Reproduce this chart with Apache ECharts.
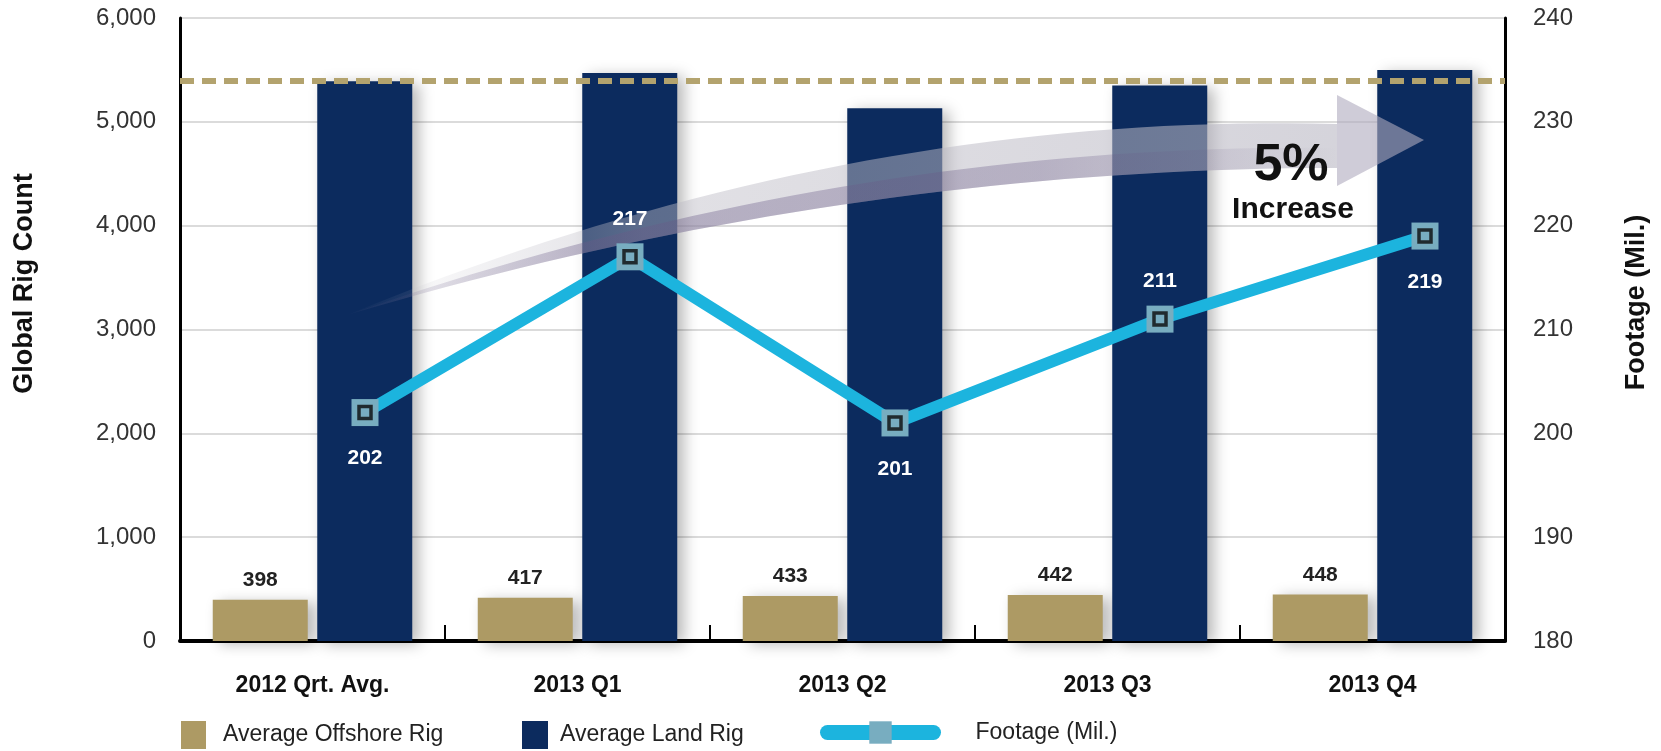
<!DOCTYPE html>
<html>
<head>
<meta charset="utf-8">
<script src="https://cdn.jsdelivr.net/npm/echarts@6/dist/echarts.min.js"></script>
<style>
html,body{margin:0;padding:0;background:#fff;}
#chart{width:1661px;height:751px;}
</style>
</head>
<body>
<div id="chart"></div>
<script>
// ---- data ----
const categories = ['2012 Qrt. Avg.', '2013 Q1', '2013 Q2', '2013 Q3', '2013 Q4'];
const offshoreRigs = [398, 417, 433, 442, 448];
const landRigs = [5390, 5470, 5130, 5350, 5500];
const footage = [202, 217, 201, 211, 219];
const referenceLevel = 5400;
const rigTicks = {min: 0, max: 6000, interval: 1000};
const footageTicks = {min: 180, max: 240, interval: 10};
const annotationMain = '5%';
const annotationSub = 'Increase';

// ---- styling / layout ----
const FONT = "'Liberation Sans', Arial, Helvetica, sans-serif";
const GOLD = '#ad9a64';
const NAVY = '#0c2b5e';
const CYAN = '#1cb4de';
const MARK = '#78adc0';

function quad(p0, c, p2, n) {
  const pts = [];
  for (let i = 0; i <= n; i++) {
    const t = i / n, a = (1 - t) * (1 - t), b = 2 * (1 - t) * t, d = t * t;
    pts.push([a * p0[0] + b * c[0] + d * p2[0], a * p0[1] + b * c[1] + d * p2[1]]);
  }
  return pts;
}
const tail = [347, 315];
const upper = quad(tail, [842, 111], [1337, 124], 40);
const lower = quad(tail, [842, 168], [1337, 168], 40);
const mid = quad(tail, [842, 142], [1337, 148], 40);
const shaftPts = upper.concat(lower.slice().reverse());
const bandPts = mid.concat(lower.slice().reverse());

const chart = echarts.init(document.getElementById('chart'), null, {renderer: 'canvas'});
const barShadow = {shadowBlur: 14, shadowColor: 'rgba(0,0,0,0.28)', shadowOffsetX: 7, shadowOffsetY: 3};

const option = {
  backgroundColor: '#fff',
  animation: false,
  textStyle: {fontFamily: FONT},
  grid: [
    {left: 180, right: 156, top: 18, bottom: 110},
    {left: 232.5, right: 103.5, top: 18, bottom: 110}
  ],
  legend: [
    {data: ['Average Offshore Rig'], left: 176, top: 716, itemWidth: 25, itemHeight: 28, icon: 'rect',
     textStyle: {fontSize: 23, color: '#222', fontFamily: FONT, padding: [0, 0, 0, 12]}},
    {data: ['Average Land Rig'], left: 517, top: 716, itemWidth: 26, itemHeight: 28, icon: 'rect',
     textStyle: {fontSize: 23, color: '#222', fontFamily: FONT, padding: [0, 0, 0, 7]}},
    {data: ['Footage (Mil.)'], left: 815, top: 716, itemWidth: 106, itemHeight: 28,
     lineStyle: {width: 15, cap: 'round'},
     textStyle: {fontSize: 23, color: '#222', fontFamily: FONT, padding: [3, 0, 0, 37]}}
  ],
  xAxis: [
    {type: 'category', gridIndex: 0, data: categories, boundaryGap: true,
     axisLine: {show: true, lineStyle: {color: '#000', width: 4}},
     axisTick: {show: true, inside: true, length: 16, interval: 0, lineStyle: {color: '#000', width: 2}},
     axisLabel: {fontSize: 23, fontWeight: 'bold', color: '#111', margin: 33, fontFamily: FONT}},
    {type: 'category', gridIndex: 1, data: categories, boundaryGap: true, show: false}
  ],
  yAxis: [
    {type: 'value', gridIndex: 0, position: 'left', min: rigTicks.min, max: rigTicks.max, interval: rigTicks.interval,
     name: 'Global Rig Count', nameLocation: 'middle', nameGap: 142,
     nameTextStyle: {fontSize: 27, fontWeight: 'bold', color: '#111', fontFamily: FONT, padding: [0, 0, 0, 92]},
     axisLine: {show: true, lineStyle: {color: '#000', width: 3}},
     axisTick: {show: false},
     splitLine: {show: true, lineStyle: {color: '#cfcfcf', width: 1.5}},
     axisLabel: {fontSize: 24, color: '#333', margin: 24, fontFamily: FONT}},
    {type: 'value', gridIndex: 0, position: 'right', min: footageTicks.min, max: footageTicks.max, interval: footageTicks.interval,
     name: 'Footage (Mil.)', nameLocation: 'middle', nameGap: 118,
     nameTextStyle: {fontSize: 27, fontWeight: 'bold', color: '#111', fontFamily: FONT, padding: [0, 0, 0, 54]},
     axisLine: {show: true, lineStyle: {color: '#000', width: 3}},
     axisTick: {show: false},
     splitLine: {show: false},
     axisLabel: {fontSize: 24, color: '#333', margin: 28, fontFamily: FONT}},
    {type: 'value', gridIndex: 1, min: footageTicks.min, max: footageTicks.max, interval: footageTicks.interval, show: false,
     splitLine: {show: false}}
  ],
  graphic: [
    {type: 'polygon', z: 3, silent: true, shape: {points: shaftPts},
     style: {fill: {type: 'linear', x: 0, y: 0, x2: 1, y2: 0, colorStops: [
       {offset: 0, color: 'rgba(190,188,198,0)'},
       {offset: 0.3, color: 'rgba(190,188,198,0.45)'},
       {offset: 1, color: 'rgba(185,183,195,0.6)'}]}}},
    {type: 'polygon', z: 3, silent: true, shape: {points: bandPts},
     style: {fill: {type: 'linear', x: 0, y: 0, x2: 1, y2: 0, colorStops: [
       {offset: 0, color: 'rgba(105,90,135,0.05)'},
       {offset: 0.25, color: 'rgba(105,90,135,0.38)'},
       {offset: 0.7, color: 'rgba(105,90,135,0.32)'},
       {offset: 1, color: 'rgba(105,90,135,0)'}]}}},
    {type: 'polygon', z: 3, silent: true, shape: {points: [[1337, 95], [1424, 140], [1337, 186]]},
     style: {fill: 'rgba(175,170,190,0.6)'}},
    {type: 'text', z: 4, silent: true, x: 1291, y: 166,
     style: {text: annotationMain, font: 'bold 52px ' + FONT, fill: '#111', textAlign: 'center', textVerticalAlign: 'middle'}},
    {type: 'text', z: 4, silent: true, x: 1293, y: 210,
     style: {text: annotationSub, font: 'bold 30px ' + FONT, fill: '#111', textAlign: 'center', textVerticalAlign: 'middle'}}
  ],
  series: [
    {name: 'Average Offshore Rig', type: 'bar', xAxisIndex: 0, yAxisIndex: 0, data: offshoreRigs,
     barWidth: 95, barGap: '10%', z: 2,
     itemStyle: Object.assign({color: GOLD}, barShadow),
     label: {show: true, position: 'top', distance: 9, fontSize: 21, fontWeight: 'bold', color: '#222', fontFamily: FONT}},
    {name: 'Average Land Rig', type: 'bar', xAxisIndex: 0, yAxisIndex: 0, data: landRigs,
     barWidth: 95, barGap: '10%', z: 2,
     itemStyle: Object.assign({color: NAVY}, barShadow),
     markLine: {silent: true, symbol: 'none', z: 4, label: {show: false},
       lineStyle: {color: '#b3a36e', width: 6, type: [14, 8]},
       data: [{yAxis: referenceLevel}]}},
    {name: 'Footage (Mil.)', type: 'line', xAxisIndex: 1, yAxisIndex: 2, z: 6,
     data: footage.map((v, i) => ({value: v, label: {position: i % 2 === 1 ? 'top' : 'bottom', distance: i % 2 === 1 ? 14 : 22}})),
     symbol: 'rect', symbolSize: 27,
     lineStyle: {color: CYAN, width: 12},
     itemStyle: {color: MARK},
     label: {show: true, fontSize: 21, fontWeight: 'bold', color: '#fff', fontFamily: FONT}},
    {name: 'Footage (Mil.)', type: 'scatter', xAxisIndex: 1, yAxisIndex: 2, z: 7, silent: true,
     data: footage, symbol: 'rect', symbolSize: 12,
     itemStyle: {color: MARK, borderColor: '#0a0a0a', borderWidth: 3.5}}
  ]
};
chart.setOption(option);
</script>
</body>
</html>
